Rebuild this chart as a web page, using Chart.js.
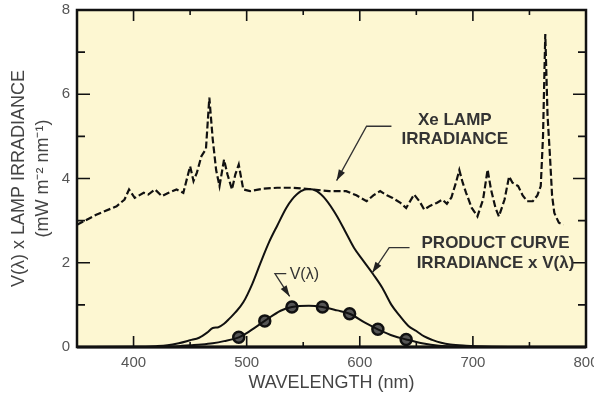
<!DOCTYPE html>
<html>
<head>
<meta charset="utf-8">
<script src="https://cdn.jsdelivr.net/npm/chart.js@4.4.1/dist/chart.umd.min.js"></script>
<style>
  html, body { margin: 0; padding: 0; background: #fff; }
</style>
</head>
<body>
<canvas id="myChart" width="594" height="398"></canvas>
<script>
// Xe lamp irradiance (nm / value)
const lampNm = [350, 367, 385, 392, 396, 401, 409, 413, 419, 425, 431, 438, 444, 450, 453,
    456, 460, 464, 467, 470, 473, 476, 480, 483, 487, 490, 493, 497, 503, 515,
    527, 540, 555, 573, 588, 597, 606, 612, 618, 624, 629, 636, 641, 648, 653,
    657, 662, 668, 673, 677, 681, 685, 688, 691, 694, 699, 704, 709, 713, 716,
    720, 723, 728, 732, 735, 740, 744, 748, 753, 757, 760, 762, 764, 766, 768,
    770, 772, 776, 780];
const lampVal = [2.9, 3.14, 3.34, 3.5, 3.74, 3.54, 3.66, 3.62, 3.74, 3.58, 3.66, 3.74, 3.66, 4.29, 3.94,
    4.14, 4.53, 4.7, 5.92, 4.93, 4.2, 3.82, 4.45, 4.1, 3.74, 4.1, 4.33, 3.74, 3.7, 3.76,
    3.78, 3.78, 3.75, 3.7, 3.7, 3.6, 3.46, 3.6, 3.7, 3.6, 3.54, 3.42, 3.3, 3.62, 3.45,
    3.26, 3.35, 3.42, 3.5, 3.4, 3.55, 3.9, 4.2, 3.9, 3.66, 3.3, 3.1, 3.5, 4.21, 3.74,
    3.3, 3.1, 3.5, 4.05, 3.9, 3.82, 3.6, 3.46, 3.46, 3.6, 3.82, 5.0, 7.43, 5.5, 4.6,
    3.6, 3.18, 2.95, 2.9];

// product curve (irradiance x V)
const prodNm = [350, 400, 420, 430, 440, 450, 458, 465, 470, 475, 480, 485, 490, 497, 505,
    512, 520, 527, 535, 540, 548, 555, 562, 570, 580, 588, 595, 603, 612, 620,
    628, 635, 643, 650, 657, 664, 672, 680, 694, 710, 740, 780];
const prodVal = [0, 0.005, 0.02, 0.04, 0.09, 0.16, 0.22, 0.34, 0.45, 0.47, 0.55, 0.68, 0.82, 1.06, 1.5,
    1.98, 2.5, 2.88, 3.3, 3.5, 3.7, 3.75, 3.7, 3.5, 3.1, 2.7, 2.35, 2.05, 1.72, 1.4,
    1.0, 0.75, 0.5, 0.38, 0.25, 0.17, 0.1, 0.06, 0.03, 0.01, 0, 0];

// V(lambda) curve and its circle markers
const vNm = [430, 440, 450, 460, 470, 480, 493, 500, 516, 530, 540, 555, 567, 580, 591, 605, 616, 630, 641, 655, 670, 690, 710];
const vVal = [0.01, 0.02, 0.04, 0.06, 0.09, 0.14, 0.23, 0.33, 0.62, 0.86, 0.95, 0.98, 0.95, 0.87, 0.79, 0.57, 0.42, 0.26, 0.18, 0.09, 0.03, 0.01, 0];
const markNm = [493, 516, 540, 567, 591, 616, 641];
const markVal = [0.23, 0.62, 0.95, 0.95, 0.79, 0.42, 0.18];

const xTicks = [400, 500, 600, 700, 800];
const xMinor = [450, 550, 650, 750];
const yTicks = [0, 2, 4, 6, 8];
const yMinor = [1, 3, 5, 7];

const FONT = '"Liberation Sans", Arial, Helvetica, sans-serif';

function pairs(xs, ys) {
    return xs.map((v, i) => ({x: v, y: ys[i]}));
}

// pale yellow plot area
const paper = {
    id: 'paper',
    beforeDatasetsDraw(chart) {
        const a = chart.chartArea, ctx = chart.ctx;
        ctx.save();
        ctx.fillStyle = '#fdf7d2';
        ctx.fillRect(a.left, a.top, a.right - a.left, a.bottom - a.top);
        ctx.restore();
    }
};

// frame and inward ticks on all four sides
const frame = {
    id: 'frame',
    afterDatasetsDraw(chart) {
        const a = chart.chartArea, ctx = chart.ctx;
        const x = chart.scales.x, y = chart.scales.y;
        ctx.save();
        ctx.strokeStyle = '#111';
        ctx.lineWidth = 1.6;
        ctx.beginPath();
        const tickX = (v, len) => {
            const p = x.getPixelForValue(v);
            ctx.moveTo(p, a.bottom); ctx.lineTo(p, a.bottom - len);
            ctx.moveTo(p, a.top); ctx.lineTo(p, a.top + len);
        };
        const tickY = (v, len) => {
            const p = y.getPixelForValue(v);
            ctx.moveTo(a.left, p); ctx.lineTo(a.left + len, p);
            ctx.moveTo(a.right, p); ctx.lineTo(a.right - len, p);
        };
        xTicks.forEach(v => tickX(v, 11));
        xMinor.forEach(v => tickX(v, 5));
        yTicks.forEach(v => tickY(v, 13));
        yMinor.forEach(v => tickY(v, 8));
        ctx.stroke();
        ctx.lineWidth = 2.5;
        ctx.strokeRect(a.left, a.top, a.right - a.left, a.bottom - a.top);
        ctx.lineWidth = 3;
        ctx.beginPath();
        ctx.moveTo(a.left, a.bottom); ctx.lineTo(a.right, a.bottom);
        ctx.stroke();
        ctx.restore();
    }
};

// callout labels with arrow leaders (anchors in data units)
const notes = {
    id: 'notes',
    afterDraw(chart) {
        const ctx = chart.ctx, x = chart.scales.x, y = chart.scales.y;
        const P = (nm, v) => [x.getPixelForValue(nm), y.getPixelForValue(v)];

        const leader = pts => {
            const q = pts.map(p => P(p[0], p[1]));
            ctx.beginPath();
            ctx.moveTo(q[0][0], q[0][1]);
            q.slice(1).forEach(p => ctx.lineTo(p[0], p[1]));
            ctx.stroke();
            const e = q[q.length - 1], s = q[q.length - 2];
            const ang = Math.atan2(e[1] - s[1], e[0] - s[0]);
            ctx.beginPath();
            ctx.moveTo(e[0], e[1]);
            ctx.lineTo(e[0] - 11 * Math.cos(ang) + 3.5 * Math.sin(ang), e[1] - 11 * Math.sin(ang) - 3.5 * Math.cos(ang));
            ctx.lineTo(e[0] - 11 * Math.cos(ang) - 3.5 * Math.sin(ang), e[1] - 11 * Math.sin(ang) + 3.5 * Math.cos(ang));
            ctx.closePath();
            ctx.fill();
        };

        ctx.save();
        ctx.strokeStyle = '#333';
        ctx.fillStyle = '#222';
        ctx.lineWidth = 1.3;
        leader([[628, 5.24], [606, 5.24], [579.5, 3.95]]);
        leader([[644, 2.36], [626, 2.36], [611, 1.76]]);
        leader([[535, 1.74], [525, 1.74], [538, 1.2]]);

        ctx.fillStyle = '#333';
        ctx.textAlign = 'center';
        ctx.textBaseline = 'middle';
        ctx.font = 'bold 17px ' + FONT;
        let p = P(684, 5.38); ctx.fillText('Xe LAMP', p[0], p[1]);
        p = P(684, 4.93); ctx.fillText('IRRADIANCE', p[0], p[1]);
        p = P(720, 2.45); ctx.fillText('PRODUCT CURVE', p[0], p[1]);
        p = P(720, 1.99); ctx.fillText('IRRADIANCE x V(\u03bb)', p[0], p[1]);
        ctx.font = '16px ' + FONT;
        ctx.textAlign = 'left';
        p = P(538, 1.72); ctx.fillText('V(\u03bb)', p[0], p[1]);
        ctx.restore();
    }
};

new Chart(document.getElementById('myChart'), {
    type: 'line',
    data: {
        datasets: [{
            label: 'Xe lamp irradiance',
            data: pairs(lampNm, lampVal),
            borderColor: '#111',
            borderWidth: 2.2,
            borderDash: [7, 3],
            pointRadius: 0,
            tension: 0
        }, {
            label: 'Product curve',
            data: pairs(prodNm, prodVal),
            borderColor: '#111',
            borderWidth: 2,
            pointRadius: 0,
            cubicInterpolationMode: 'monotone'
        }, {
            label: 'V(\u03bb)',
            data: pairs(vNm, vVal),
            borderColor: '#111',
            borderWidth: 2,
            pointRadius: 0,
            cubicInterpolationMode: 'monotone'
        }, {
            label: 'V(\u03bb) points',
            data: pairs(markNm, markVal),
            showLine: false,
            pointRadius: 5.5,
            pointBackgroundColor: '#555',
            pointBorderColor: '#111',
            pointBorderWidth: 2.5
        }]
    },
    options: {
        responsive: false,
        devicePixelRatio: 1,
        animation: false,
        layout: {padding: {top: 10, right: 7, left: 0, bottom: 0}},
        plugins: {legend: {display: false}, tooltip: {enabled: false}},
        scales: {
            x: {
                type: 'linear',
                min: 350,
                max: 800,
                afterBuildTicks: s => { s.ticks = xTicks.map(v => ({value: v})); },
                afterFit: s => { s.height = 51; s.paddingLeft = 0; s.paddingRight = 0; },
                grid: {display: false, drawTicks: false},
                border: {display: false},
                ticks: {color: '#555', font: {family: FONT, size: 15}, padding: 7, maxRotation: 0, autoSkip: false},
                title: {display: true, text: 'WAVELENGTH (nm)', color: '#444',
                    font: {family: FONT, size: 18}, padding: {top: 0, bottom: 4}}
            },
            y: {
                min: 0,
                max: 8,
                afterBuildTicks: s => { s.ticks = yTicks.map(v => ({value: v})); },
                afterFit: s => { s.width = 77; s.paddingTop = 0; s.paddingBottom = 0; },
                grid: {display: false, drawTicks: false},
                border: {display: false},
                ticks: {color: '#555', font: {family: FONT, size: 15}, padding: 7},
                title: {display: true, text: ['V(\u03bb) x LAMP IRRADIANCE', '(mW m\u207b\u00b2 nm\u207b\u00b9)'], color: '#444',
                    font: {family: FONT, size: 18, lineHeight: 1.34}, padding: {top: 7, bottom: 0}}
            }
        }
    },
    plugins: [paper, frame, notes]
});
</script>
</body>
</html>
